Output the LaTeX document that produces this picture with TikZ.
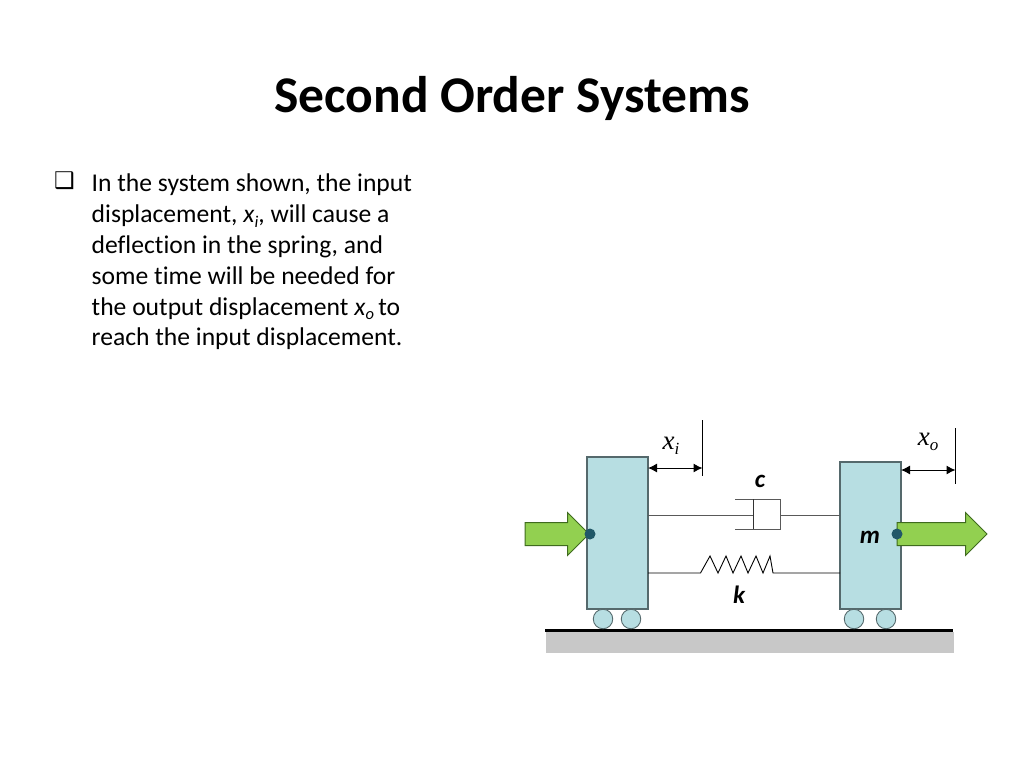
\documentclass[tikz,border=0pt]{standalone}
\usepackage{fontspec}
\setmainfont[Ligatures=CommonOff]{Carlito}
\newfontfamily\symfont{DejaVu Sans Bold}
\newfontfamily\timesfont{Liberation Serif}
\usetikzlibrary{shapes.arrows,arrows.meta}
\definecolor{blockfill}{HTML}{B7DEE2}
\definecolor{blockline}{HTML}{55696C}
\definecolor{arrowfill}{HTML}{92D050}
\definecolor{arrowline}{HTML}{3F6B1E}
\definecolor{dotfill}{HTML}{215868}
\definecolor{floorfill}{HTML}{C8C8C8}
\newcommand{\txtsub}[1]{\textit{x}\raisebox{-4.5pt}{\fontsize{16.5}{16.5}\selectfont\textit{#1}}}
\newcommand{\symsub}[1]{x\raisebox{-5.5pt}{\fontsize{17}{17}\selectfont #1}}
\begin{document}
\begin{tikzpicture}[x=1pt,y=-1pt,
block/.style={draw=blockline,fill=blockfill,line width=1.2pt,minimum width=61pt,inner sep=0pt,outer sep=0pt},
wheel/.style={circle,draw=blockline,fill=blockfill,line width=0.9pt,minimum size=19.5pt,inner sep=0pt,outer sep=0pt},
pushbar/.style={single arrow,draw=arrowline,fill=arrowfill,line width=1pt,single arrow tip angle=90,single arrow head extend=10pt,inner sep=11pt,outer sep=0pt},
pin/.style={circle,fill=dotfill,minimum size=11pt,inner sep=0pt},
rod/.style={draw=black!65,line width=1pt},
dim/.style={{Latex[length=9pt,width=9pt]}-{Latex[length=9pt,width=9pt]},line width=1pt},
lab/.style={font=\fontsize{25}{25}\selectfont\bfseries\itshape,inner sep=0pt},
sym/.style={font=\fontsize{27}{27}\timesfont\itshape,inner sep=0pt}]
\useasboundingbox (0,0) rectangle (1024,768);

\node[font=\fontsize{51.5}{51.5}\selectfont\bfseries,inner sep=0pt] (title) at (512,98.5) {Second Order Systems};
\node[font=\fontsize{23}{23}\symfont,inner sep=0pt] (bullet) at (64.5,181) {❑};
\node[font=\fontsize{25.6}{30.8}\selectfont,align=left,anchor=north west,inner sep=0pt] (body) at (91.5,174) {In the system shown, the input\\
displacement, \txtsub{i}, will cause a\\
deflection in the spring, and\\
some time will be needed for\\
the output displacement \txtsub{o}\,to\\
reach the input displacement.};

\node[fill=floorfill,minimum width=408pt,minimum height=21pt,inner sep=0pt,outer sep=0pt] (floor) at (750,642.5) {};
\coordinate (fl) at (545,630.5);
\coordinate (fr) at (953,630.5);
\draw[line width=3pt] (fl) -- (fr);

\node[block,minimum height=152pt] (input) at (617.5,533) {};
\node[block,minimum height=147pt] (mass) at (870.5,535.5) {};
\node[wheel] (w1) at (603,619) {};
\node[wheel] (w2) at (631,619) {};
\node[wheel] (w3) at (854,619) {};
\node[wheel] (w4) at (886,619) {};

\node[pushbar,minimum height=64pt,anchor=tip] (inarrow) at (589,534) {};
\node[pushbar,minimum height=90pt,anchor=tip] (outarrow) at (987,534) {};
\node[pin] (inpin) at (590,534) {};
\node[pin] (outpin) at (897,534) {};

\coordinate (cyl) at (753.5,515);
\coordinate (cylend) at (780,515);
\draw[rod] (input.east |- cyl) -- (cyl);
\draw[rod] (cylend) -- (mass.west |- cylend);
\draw[rod] (735,499) -- (780,499) -- (780,529) -- (735,529);
\draw[line width=0.9pt,black!80] (753.5,499) -- (753.5,529);

\coordinate (sp1) at (700.5,573);
\coordinate (sp2) at (773,573);
\draw[line width=0.9pt] (input.east |- sp1) -- (sp1) -- (710,556) -- (718,573) -- (726,556) -- (733,573) -- (741,556) -- (748,573) -- (756,556) -- (763,573) -- (770,556) -- (sp2) -- (mass.west |- sp2);

\coordinate (refi) at (702.5,468);
\coordinate (refo) at (955.5,470);
\draw[line width=0.9pt] (702.5,420) -- (702.5,476);
\draw[line width=0.9pt] (955.5,428) -- (955.5,484);
\draw[dim] (input.east |- refi) -- (refi);
\draw[dim] (mass.east |- refo) -- (refo);

\node[sym] (xi) at (671,446) {\symsub{i}};
\node[sym] (xo) at (928,442) {\symsub{o}};
\node[lab] (c) at (760,481) {c};
\node[lab] (k) at (739,595) {k};
\node[lab] (m) at (870,537.5) {m};
\end{tikzpicture}
\end{document}
